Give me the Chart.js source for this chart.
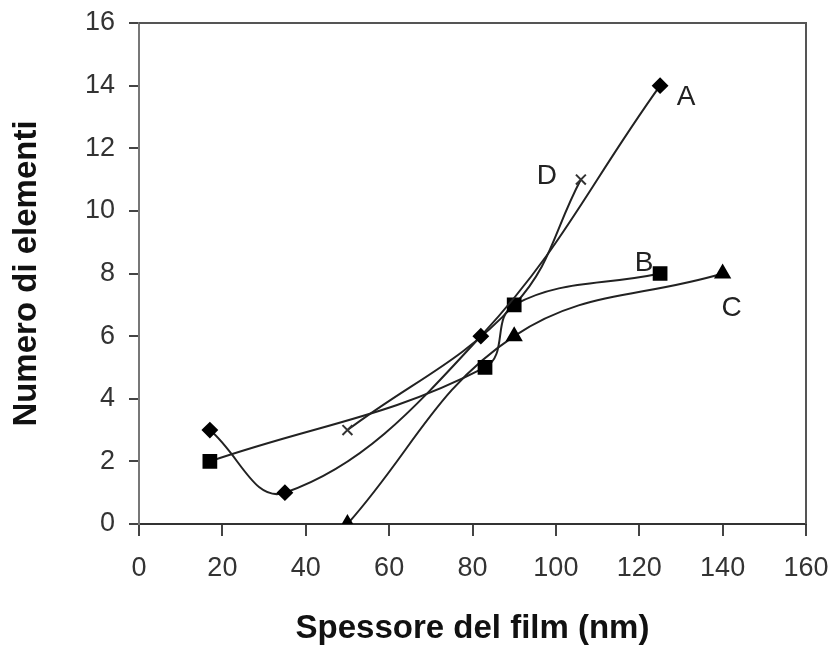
<!DOCTYPE html>
<html>
<head>
<meta charset="utf-8">
<script src="https://cdn.jsdelivr.net/npm/chart.js@4/dist/chart.umd.min.js"></script>
<style>
  html, body { margin: 0; padding: 0; background: #fff; }
  #wrap { width: 837px; height: 647px; }
</style>
</head>
<body>
<div id="wrap"><canvas id="chart"></canvas></div>
<script>
// valori
const serieA_x = [17, 35, 82, 125];
const serieA_y = [3, 1, 6, 14];
const serieB_x = [17, 83, 90, 125];
const serieB_y = [2, 5, 7, 8];
const serieC_x = [50, 90, 140];
const serieC_y = [0, 6, 8];
const serieD_x = [50, 90, 106];
const serieD_y = [3, 7, 11];
const nomiSerie = ["A", "B", "C", "D"];
const xTicks = [0, 20, 40, 60, 80, 100, 120, 140, 160];
const yTicks = [0, 2, 4, 6, 8, 10, 12, 14, 16];

const toPoints = (xs, ys) => xs.map((x, i) => ({ x: x, y: ys[i] }));

// etichette vicino all'ultimo punto di ogni serie
const labelOffsets = { A: [26, 12], B: [-16, -10], C: [9, 35], D: [-34, -3] };

const seriesLabels = {
  id: "seriesLabels",
  afterDatasetsDraw(chart) {
    const ctx = chart.ctx;
    ctx.save();
    ctx.font = "28px 'Liberation Sans', Arial, sans-serif";
    ctx.fillStyle = "#222";
    ctx.textAlign = "center";
    ctx.textBaseline = "middle";
    chart.data.datasets.forEach((ds, i) => {
      const meta = chart.getDatasetMeta(i);
      const last = meta.data[meta.data.length - 1];
      const off = labelOffsets[ds.label];
      ctx.fillText(ds.label, last.x + off[0], last.y + off[1]);
    });
    ctx.restore();
  },
};

const frame = {
  id: "frame",
  beforeDatasetsDraw(chart) {
    const { left, right, top, bottom } = chart.chartArea;
    const ctx = chart.ctx;
    ctx.save();
    ctx.strokeStyle = "#555";
    ctx.lineWidth = 2;
    ctx.beginPath();
    ctx.moveTo(left, top);
    ctx.lineTo(right, top);
    ctx.lineTo(right, bottom);
    ctx.stroke();
    ctx.restore();
  },
};

const lineStyle = {
  borderColor: "#222",
  borderWidth: 2,
  backgroundColor: "#000",
  pointBorderColor: "#000",
  tension: 0.4,
  fill: false,
};

const ctx = document.getElementById("chart").getContext("2d");
new Chart(ctx, {
  type: "scatter",
  data: {
    datasets: [
      { ...lineStyle, label: nomiSerie[0], data: toPoints(serieA_x, serieA_y), showLine: true, pointStyle: "rectRot", pointRadius: 7 },
      { ...lineStyle, label: nomiSerie[1], data: toPoints(serieB_x, serieB_y), showLine: true, pointStyle: "rect", pointRadius: 9 },
      { ...lineStyle, label: nomiSerie[2], data: toPoints(serieC_x, serieC_y), showLine: true, pointStyle: "triangle", pointRadius: 8 },
      { ...lineStyle, label: nomiSerie[3], data: toPoints(serieD_x, serieD_y), showLine: true, pointStyle: "crossRot", pointRadius: 7, pointBorderWidth: 2, pointBorderColor: "#333" },
    ],
  },
  options: {
    responsive: true,
    maintainAspectRatio: false,
    animation: false,
    layout: { padding: { top: 23, right: 31, left: 0, bottom: 0 } },
    plugins: {
      legend: { display: false },
      tooltip: { enabled: false },
    },
    scales: {
      x: {
        type: "linear",
        min: 0,
        max: 160,
        afterBuildTicks: (scale) => { scale.ticks = xTicks.map((v) => ({ value: v })); },
        afterFit: (scale) => {
          scale.height = 123;
          scale.paddingLeft = 0;
          scale.paddingRight = 0;
        },
        grid: { drawOnChartArea: false, drawTicks: true, tickLength: 12, color: "#444", lineWidth: 2 },
        border: { color: "#333", width: 2 },
        ticks: { color: "#333", padding: 16, font: { family: "'Liberation Sans', Arial, sans-serif", size: 27 } },
        title: {
          display: true,
          text: "Spessore del film (nm)",
          color: "#111",
          padding: { top: 0, bottom: 0 },
          font: { family: "'Liberation Sans', Arial, sans-serif", size: 33, weight: "bold", lineHeight: 1.1 },
        },
      },
      y: {
        type: "linear",
        min: 0,
        max: 16,
        afterBuildTicks: (scale) => { scale.ticks = yTicks.map((v) => ({ value: v })); },
        afterFit: (scale) => {
          scale.width = 139;
          scale.paddingTop = 0;
          scale.paddingBottom = 0;
        },
        grid: { drawOnChartArea: false, drawTicks: true, tickLength: 10, color: "#444", lineWidth: 2 },
        border: { color: "#777", width: 2 },
        ticks: { color: "#333", padding: 14, font: { family: "'Liberation Sans', Arial, sans-serif", size: 27 } },
        title: {
          display: true,
          text: "Numero di elementi",
          color: "#111",
          padding: { top: 7, bottom: 0 },
          font: { family: "'Liberation Sans', Arial, sans-serif", size: 33, weight: "bold" },
        },
      },
    },
  },
  plugins: [frame, seriesLabels],
});
</script>
</body>
</html>
